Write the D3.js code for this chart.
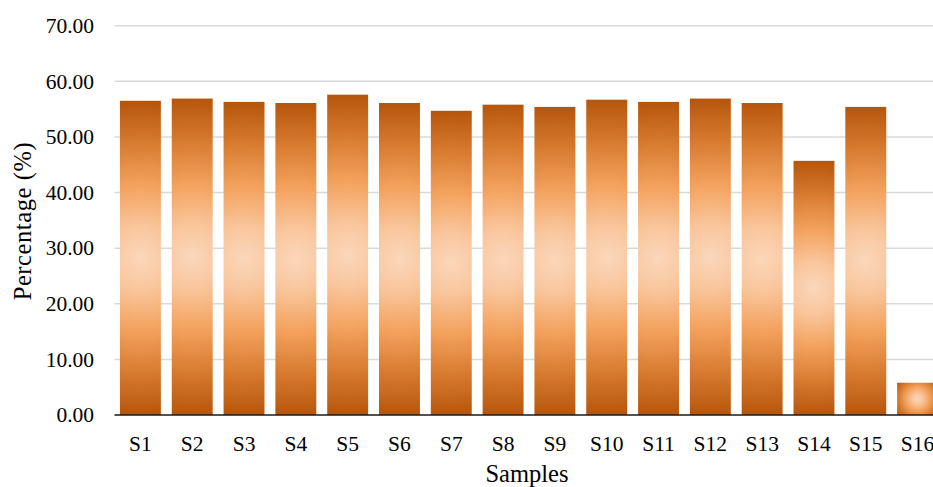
<!DOCTYPE html>
<html>
<head>
<meta charset="utf-8">
<script src="https://cdn.jsdelivr.net/npm/d3@7"></script>
<style>
  html, body { margin: 0; padding: 0; background: #fff; }
  svg { display: block; }
  text { font-family: "Liberation Serif", "Times New Roman", serif; fill: #000; }
</style>
</head>
<body>
<div id="chart"></div>
<script>
const categories = ["S1","S2","S3","S4","S5","S6","S7","S8","S9","S10","S11","S12","S13","S14","S15","S16"];
const values = [56.5, 56.9, 56.3, 56.1, 57.6, 56.1, 54.7, 55.8, 55.4, 56.7, 56.3, 56.9, 56.1, 45.7, 55.4, 5.8];
const yTicks = [0, 10, 20, 30, 40, 50, 60, 70];
const xTitle = "Samples";
const yTitle = "Percentage (%)";

const W = 933, H = 487;
const mLeft = 114.5, mRight = 943.5, mTop = 25.7, mBottom = 415;

const svg = d3.select("#chart").append("svg").attr("width", W).attr("height", H);

const x = d3.scaleBand().domain(categories).range([mLeft, mRight]).paddingInner(0.21).paddingOuter(0.105);
const y = d3.scaleLinear().domain([0, 70]).range([mBottom, mTop]);

const defs = svg.append("defs");

// gridlines
svg.append("g").selectAll("line").data(yTicks.filter(t => t > 0)).join("line")
  .attr("x1", mLeft).attr("x2", mRight)
  .attr("y1", d => y(d)).attr("y2", d => y(d))
  .attr("stroke", "#d9d9d9").attr("stroke-width", 1.5);

// gradients per bar (radial, circle circumscribing the bar)
const stops = [
  [0, "#fbd7ba"], [0.2, "#f9c69d"], [0.45, "#f4a35f"], [0.72, "#d87c31"], [1, "#b5550b"]
];
categories.forEach((c, i) => {
  const x0 = x(c), w = x.bandwidth();
  const y0 = y(values[i]), h = y(0) - y0;
  const g = defs.append("radialGradient").attr("id", "g" + i)
    .attr("gradientUnits", "userSpaceOnUse")
    .attr("cx", x0 + w / 2).attr("cy", y0 + h / 2)
    .attr("r", Math.sqrt((w / 2) ** 2 + (h / 2) ** 2));
  stops.forEach(s => g.append("stop").attr("offset", s[0]).attr("stop-color", s[1]));
});

svg.append("g").selectAll("rect").data(values).join("rect")
  .attr("x", (d, i) => x(categories[i]))
  .attr("width", x.bandwidth())
  .attr("y", d => y(d))
  .attr("height", d => y(0) - y(d))
  .attr("fill", (d, i) => `url(#g${i})`);

// x axis line
svg.append("line").attr("x1", mLeft).attr("x2", mRight).attr("y1", mBottom).attr("y2", mBottom)
  .attr("stroke", "#1a1a1a").attr("stroke-width", 1.5);

// y tick labels
svg.append("g").selectAll("text").data(yTicks).join("text")
  .attr("x", 94).attr("y", d => y(d) + 7.3)
  .attr("text-anchor", "end").attr("font-size", 21.5)
  .text(d => d3.format(".2f")(d));

// x tick labels
svg.append("g").selectAll("text").data(categories).join("text")
  .attr("x", d => x(d) + x.bandwidth() / 2).attr("y", 451)
  .attr("text-anchor", "middle").attr("font-size", 21.5)
  .text(d => d);

// axis titles
svg.append("text").attr("x", 527).attr("y", 482)
  .attr("text-anchor", "middle").attr("font-size", 24.5).text(xTitle);

svg.append("text")
  .attr("transform", `translate(31,${(mTop + mBottom) / 2 + 1}) rotate(-90)`)
  .attr("text-anchor", "middle").attr("font-size", 24.5)
  .attr("textLength", 158).attr("lengthAdjust", "spacing")
  .text(yTitle);
</script>
</body>
</html>
